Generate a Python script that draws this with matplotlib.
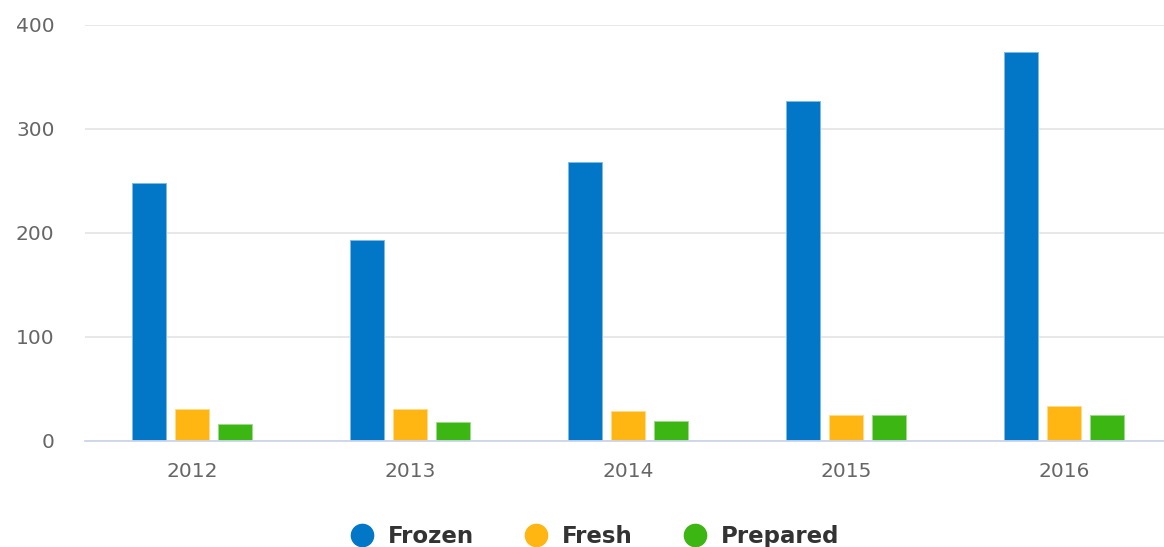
import matplotlib
matplotlib.use("Agg")
import matplotlib.pyplot as plt
from matplotlib.lines import Line2D
import numpy as np

years = ["2012", "2013", "2014", "2015", "2016"]
series_names = ["Frozen", "Fresh", "Prepared"]
frozen = [248, 193, 268, 327, 374]
fresh = [31, 31, 29, 25, 34]
prepared = [16, 18, 19, 25, 25]
colors = ["#0277c8", "#ffb612", "#3bb612"]
edge_colors = ["#7fbbe3", "#ffda88", "#9dda88"]
yticks = [0, 100, 200, 300, 400]

fig = plt.figure(figsize=(11.64, 5.47), dpi=100)
ax = fig.add_axes([85/1164, 1-441/547, 1-85/1164, (441-25)/547])

x = np.arange(len(years))
width = 0.156
offset = 0.198
for i, (name, vals) in enumerate(zip(series_names, [frozen, fresh, prepared])):
    ax.bar(x + (i-1)*offset, vals, width=width, color=colors[i],
           edgecolor=edge_colors[i], linewidth=0.7, zorder=3)

ax.set_xlim(-0.49, 4.46)
ax.set_ylim(0, 400)
ax.set_yticks(yticks)
ax.set_yticklabels([str(v) for v in yticks])
ax.set_xticks(x)
ax.set_xticklabels(years)
ax.grid(axis="y", color="#e6e6e6", linewidth=1.3, zorder=0)
ax.set_axisbelow(True)
for s in ["top", "right", "left"]:
    ax.spines[s].set_visible(False)
ax.spines["bottom"].set_color("#ccd6eb")
ax.spines["bottom"].set_linewidth(1.3)
ax.spines["bottom"].set_zorder(4)
ax.tick_params(axis="y", length=0, pad=22, labelsize=14.5, labelcolor="#666666")
ax.tick_params(axis="x", length=0, pad=15, labelsize=14.5, labelcolor="#666666")

handles = [Line2D([0], [0], marker="o", linestyle="", markersize=16,
                  markerfacecolor=c, markeredgecolor=c) for c in colors]
leg = fig.legend(handles, series_names, loc="center", bbox_to_anchor=(0.511, 0.019),
                 ncol=3, frameon=False, handlelength=1.0, handletextpad=0.65,
                 columnspacing=2.2, prop={"weight": "bold", "size": 16.5})
for t in leg.get_texts():
    t.set_color("#333333")

fig.savefig("out.png", dpi=100)
